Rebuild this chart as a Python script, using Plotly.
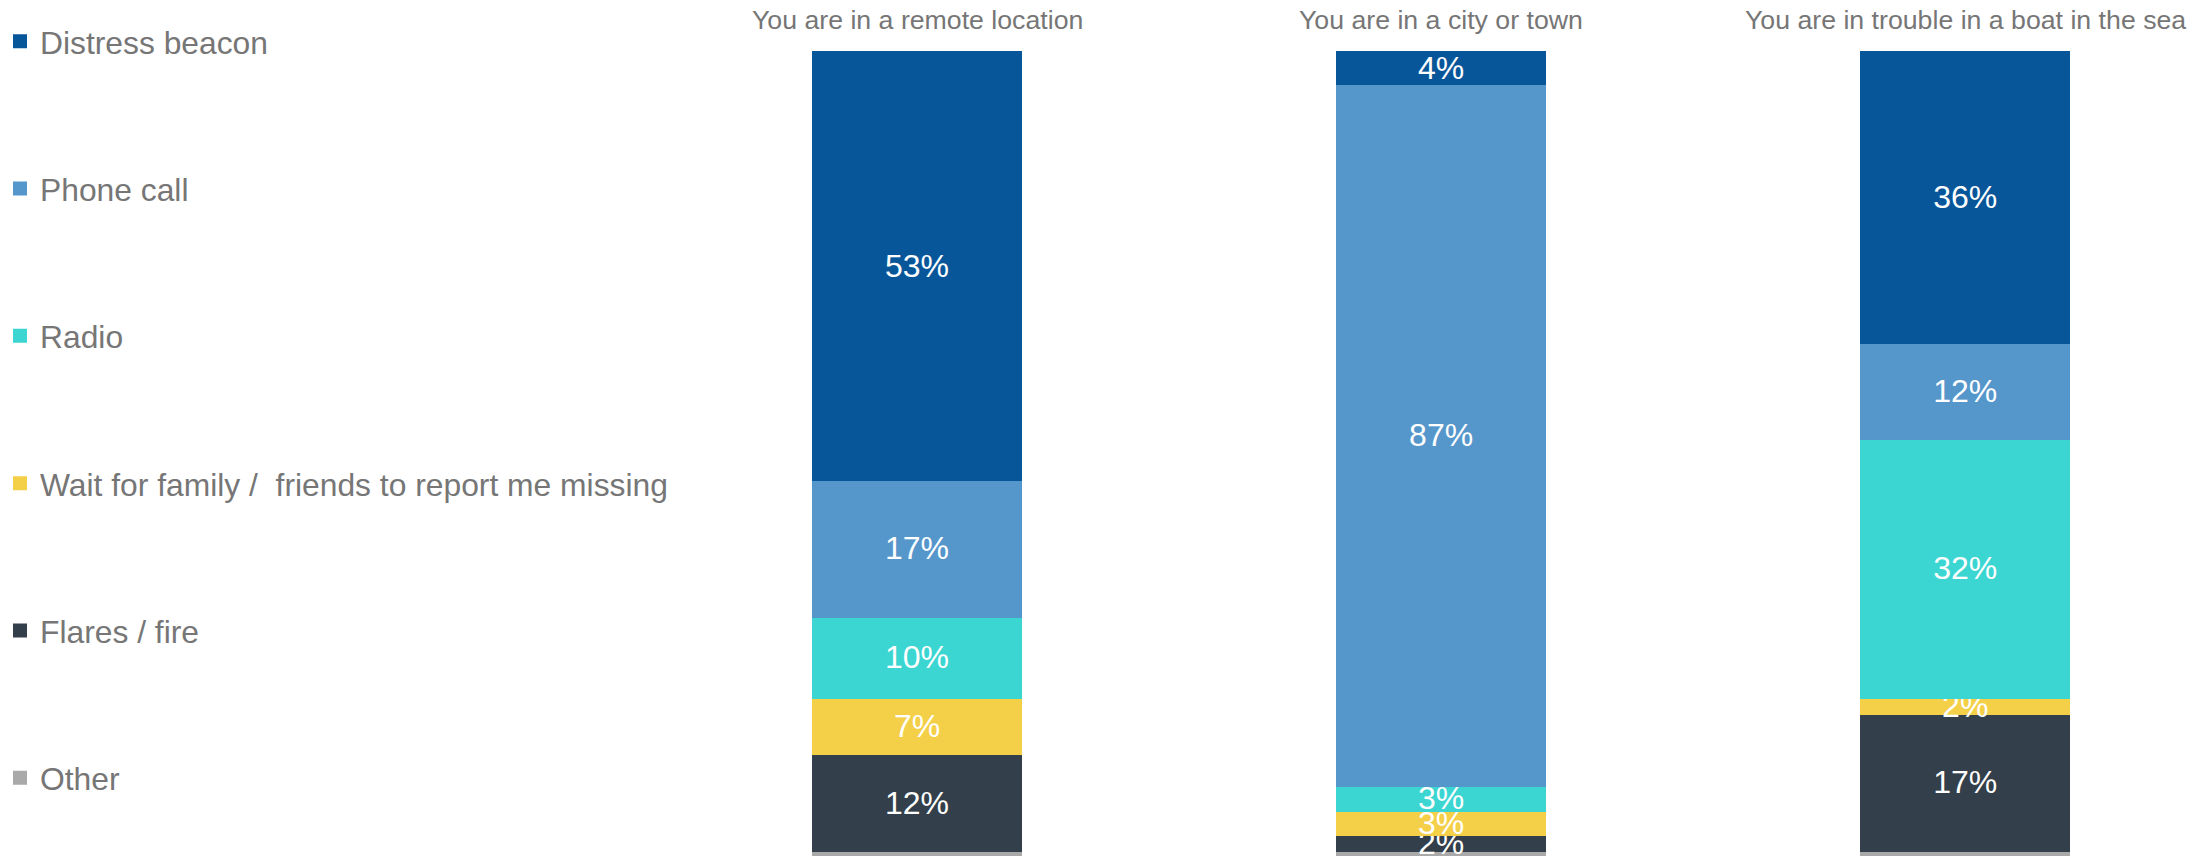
import plotly.graph_objects as go

# Survey: how people would call for help in three situations (% of respondents)
scenarios = [
    "You are in a remote location",
    "You are in a city or town",
    "You are in trouble in a boat in the sea",
]

# Stacked from the bottom up
methods = [
    "Other",
    "Flares / fire",
    "Wait for family /  friends to report me missing",
    "Radio",
    "Phone call",
    "Distress beacon",
]

other = [1, 1, 1]
flares_fire = [12, 2, 17]
wait_for_family = [7, 3, 2]
radio = [10, 3, 32]
phone_call = [17, 87, 12]
distress_beacon = [53, 4, 36]

series = [other, flares_fire, wait_for_family, radio, phone_call, distress_beacon]
colors = ["#a9a9a9", "#333f4a", "#f4cf48", "#3bd5d2", "#5596cb", "#08569a"]

TEXT_GREY = "#767676"
FONT = "Liberation Sans, Arial, sans-serif"

W, H = 2211, 856
BAR_TOP_PX = 52          # pixel row of the 100% line
PX_PER_PCT = 8.07        # vertical scale of the stacks
Y_TOP = 100 + BAR_TOP_PX / PX_PER_PCT
Y_BOTTOM = 100 - (H - BAR_TOP_PX) / PX_PER_PCT

fig = go.Figure()
n = len(methods)
for i, (name, vals, color) in enumerate(zip(methods, series, colors)):
    labels = ["" if name == "Other" else f"{v}%" for v in vals]
    fig.add_trace(
        go.Bar(
            name=name,
            x=scenarios,
            y=vals,
            text=labels,
            textposition="inside",
            insidetextanchor="middle",
            textangle=0,
            constraintext="none",
            textfont=dict(color="white", size=32, family=FONT),
            # a thin outline in the fill colour enlarges the legend swatch
            marker=dict(color=color, line=dict(width=2, color=color)),
            width=0.397,
            legendgroup=name,
            legendrank=n - i,
            hoverinfo="skip",
        )
    )

# Scenario titles above each stack
for s in scenarios:
    fig.add_annotation(
        x=s,
        y=(H - 20) / H,
        xref="x",
        yref="paper",
        text=s,
        showarrow=False,
        xanchor="center",
        yanchor="middle",
        font=dict(size=26.7, color=TEXT_GREY, family=FONT),
    )

fig.update_layout(
    template="none",
    width=W,
    height=H,
    barmode="stack",
    paper_bgcolor="white",
    plot_bgcolor="white",
    margin=dict(l=0, r=0, t=0, b=0, pad=0),
    font=dict(family=FONT, color=TEXT_GREY),
    uniformtext=dict(minsize=32, mode="show"),
    showlegend=True,
    legend=dict(
        x=0,
        y=1 - 14 / H,
        xanchor="left",
        yanchor="top",
        traceorder="grouped",
        tracegroupgap=103,
        maxheight=1.0,
        font=dict(size=31.8, color=TEXT_GREY, family=FONT),
        bgcolor="rgba(0,0,0,0)",
        borderwidth=0,
    ),
    xaxis=dict(
        domain=[655 / W, 1],
        range=[-0.5, 2.469],
        showgrid=False,
        showline=False,
        zeroline=False,
        showticklabels=False,
        ticks="",
        fixedrange=True,
    ),
    yaxis=dict(
        range=[Y_BOTTOM, Y_TOP],
        visible=False,
        showgrid=False,
        zeroline=False,
        fixedrange=True,
    ),
)

fig.write_html("out.html")
